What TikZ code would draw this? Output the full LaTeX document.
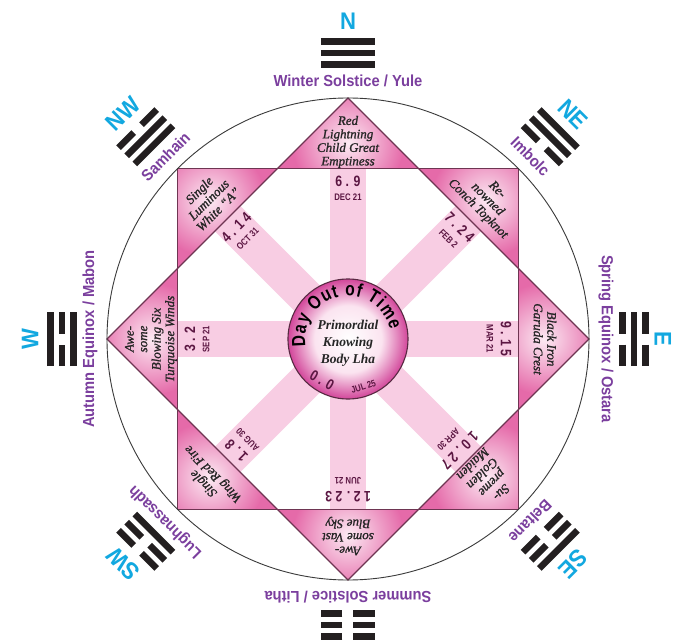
\documentclass[tikz,border=0pt]{standalone}
\usepackage{fontspec}
\setmainfont{Liberation Serif}
\newfontfamily\pointfont[FakeBold=1.2]{Liberation Serif}
\newfontfamily\labelfont[FakeStretch=0.92]{Liberation Sans}
\newfontfamily\condfont[FakeStretch=0.82]{Liberation Sans}
\usetikzlibrary{decorations.text}

\definecolor{labelpurple}{HTML}{7B3F9E}
\definecolor{dircyan}{HTML}{12A8E0}
\definecolor{raypink}{HTML}{F8CDE3}
\definecolor{tripink}{HTML}{E56AA9}
\definecolor{trilight}{HTML}{FCEAF3}
\definecolor{edgeplum}{HTML}{6E3552}
\definecolor{numplum}{HTML}{5B1642}
\definecolor{hubpink}{HTML}{D2469A}
\definecolor{hublight}{HTML}{FBE4F0}
\definecolor{trigramgrey}{HTML}{231F20}
\definecolor{ringgrey}{HTML}{3A3A3A}

\pgfdeclareradialshading{hubglow}{\pgfpointorigin}{color(0bp)=(white); color(14bp)=(hublight); color(25bp)=(hubpink); color(50bp)=(hubpink)}

\newcommand\hubfont{\condfont\bfseries\fontsize{19}{19}\selectfont}

\tikzset{
  seasonlabel/.style={text=labelpurple, inner sep=0pt, font=\labelfont\bfseries\fontsize{16}{16}\selectfont},
  compass/.style={text=dircyan, inner sep=0pt, font=\labelfont\bfseries\fontsize{24}{24}\selectfont},
  raynum/.style={text=numplum, inner sep=0pt, font=\condfont\bfseries\fontsize{15}{15}\selectfont},
  raydate/.style={text=numplum, inner sep=0pt, font=\condfont\bfseries\fontsize{9.5}{9.5}\selectfont},
  pointtext/.style={align=center, text=black!85, inner sep=0pt, font=\pointfont\itshape\fontsize{13}{13.5}\selectfont},
  hubtext/.style={align=center, text=black!85, inner sep=0pt, font=\bfseries\itshape\fontsize{13.5}{17}\selectfont},
  trigrambar/.style={draw=trigramgrey, line width=6.5pt}
}

\begin{document}
\begin{tikzpicture}[x=1pt, y=1pt]
	\useasboundingbox (-348,-304) rectangle (327,339);
	\fill[white] (-348,-304) rectangle (327,339);

	% Лучи
	\foreach \a in {0,45,...,315}
		\fill[raypink, rotate=\a] (0,-18) rectangle (170.4,18);

	% Треугольники звезды
	\foreach \a in {0,45,...,315} {
		\begin{scope}
			\clip (\a:241) -- (\a+22.5:184.45) -- (\a-22.5:184.45) -- cycle;
			\fill[tripink] (\a:200) circle (80);
			\shade[inner color=trilight, outer color=tripink] (\a:196) circle (56);
		\end{scope}
	}

	% Квадрат и ромб
	\draw[edgeplum, line width=1.1pt] (45:241) -- (135:241) -- (225:241) -- (315:241) -- cycle;
	\draw[edgeplum, line width=1.1pt] (0:241) -- (90:241) -- (180:241) -- (270:241) -- cycle;
	\draw[ringgrey, line width=0.9pt] (0,0) circle (241);

	% Тексты в треугольниках
	\foreach \a/\txt [count=\k] in {
		90/{Red\\Lightning\\Child Great\\Emptiness},
		45/{Re-\\nowned\\Conch Topknot},
		0/{Black Iron\\Garuda Crest},
		-45/{Su-\\preme\\Golden\\Maiden},
		-90/{Awe-\\some Vast\\Blue Sky},
		-135/{Single\\Wing Red Fire},
		180/{Awe-\\some\\Blowing Six\\Turquoise Winds},
		135/{Single\\Luminous\\White “A”}} {
		\node[pointtext, rotate=\a-90] (point\k) at (\a:197) {\txt};
	}

	% Числа и даты на лучах
	\foreach \a/\num/\day [count=\k] in {90/6 . 9/DEC 21, 45/7 . 2 4/FEB 2, 0/9 . 1 5/MAR 21,
		-45/1 0 . 2 7/APR 30, -90/1 2 . 2 3/JUN 21, -135/1 . 8/AUG 30, 180/3 . 2/SEP 21, 135/4 . 1 4/OCT 31} {
		\node[raynum, rotate=\a-90] (num\k) at (\a:158) {\num};
		\node[raydate, rotate=\a-90] (day\k) at (\a:142) {\day};
	}

	% Центр
	\shade[shading=hubglow] (0,0) circle (60);
	\draw[edgeplum!80!black, line width=1.1pt] (0,0) circle (60);
	\path[decorate, decoration={text along path, text align=fit to path, text={|\hubfont|Day Out of Time}}]
		(190:43) arc[start angle=190, end angle=12, radius=43];
	\node[hubtext] (hub) at (0,-4) {Primordial\\Knowing\\Body Lha};
	\node[raynum, rotate=-30] (hubnum) at (238:49) {0 . 0};
	\node[raydate, rotate=18] (hubday) at (288:50) {JUL 25};

	% Праздники и стороны света
	\foreach \a/\dir/\lab in {90/N/{Winter Solstice / Yule}, 45/NE/Imbolc, 0/E/{Spring Equinox / Ostara},
		-45/SE/Beltane, -90/S/{Summer Solstice / Litha}, -135/SW/Lughnassadh,
		180/W/{Autumn Equinox / Mabon}, 135/NW/Samhain}
		\node[seasonlabel, rotate=\a-90] (lab\dir) at (\a:258) {\lab};
	\foreach \a/\dir/\r in {90/N/318, 45/NE/318, 0/E/315, -45/SE/318, -135/SW/318, 180/W/318, 135/NW/318}
		\node[compass, rotate=\a-90] (dir\dir) at (\a:\r) {\dir};

	% Триграммы: 1 -- сплошная черта, 0 -- прерванная (изнутри наружу)
	\foreach \a/\p/\q/\r in {90/1/1/1, 45/0/1/1, 0/0/1/0, -45/0/0/1, -90/0/0/0, -135/1/0/0, 180/1/0/1, 135/1/1/0} {
		\begin{scope}[rotate=\a-90]
			\foreach \y/\s in {274.5/\p, 286/\q, 297.5/\r} {
				\ifnum\s=1
					\draw[trigrambar] (-27,\y) -- (27,\y);
				\else
					\draw[trigrambar] (-27,\y) -- (-5.5,\y) (5.5,\y) -- (27,\y);
				\fi
			}
		\end{scope}
	}
\end{tikzpicture}
\end{document}
